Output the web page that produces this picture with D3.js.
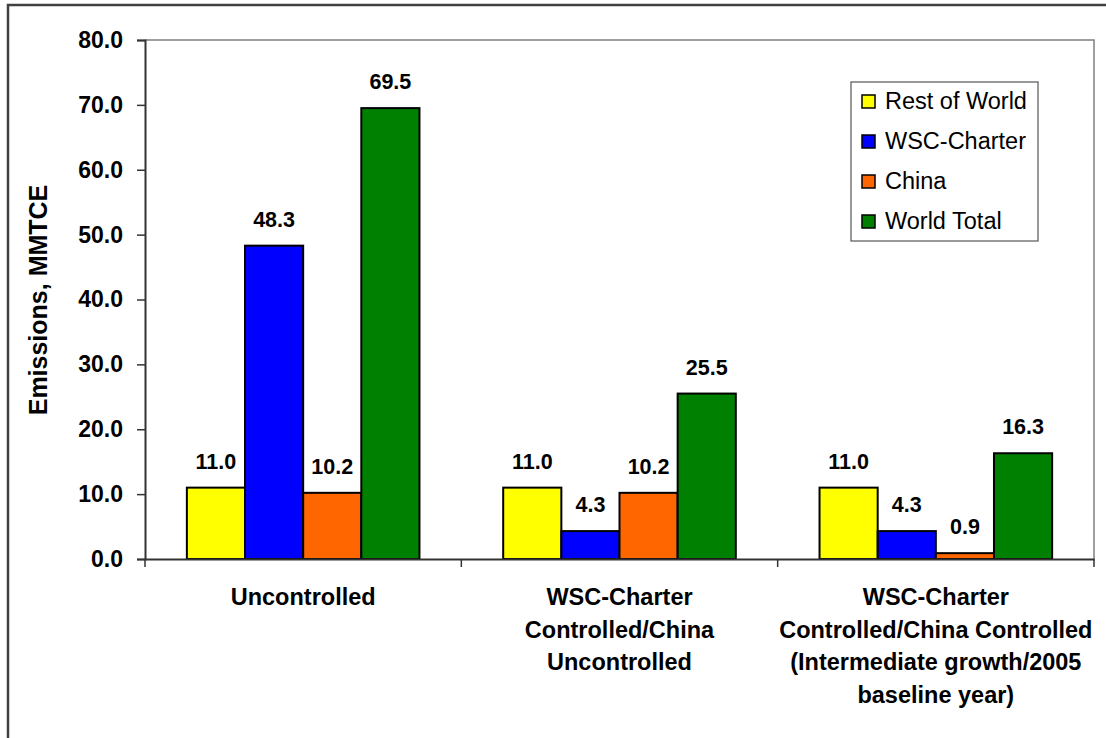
<!DOCTYPE html>
<html><head><meta charset="utf-8">
<script src="https://cdn.jsdelivr.net/npm/d3@7"></script>
<style>body{margin:0;background:#fff}svg{display:block}</style>
</head><body><svg id="c" width="1106" height="738"></svg>
<script>
const categories = [
  ["Uncontrolled"],
  ["WSC-Charter", "Controlled/China", "Uncontrolled"],
  ["WSC-Charter", "Controlled/China Controlled", "(Intermediate growth/2005", "baseline year)"]
];
const seriesNames = ["Rest of World", "WSC-Charter", "China", "World Total"];
const seriesColors = ["#FFFF00", "#0000FF", "#FF6600", "#008000"];
const restOfWorld = [11.0, 11.0, 11.0];
const wscCharter = [48.3, 4.3, 4.3];
const china = [10.2, 10.2, 0.9];
const worldTotal = [69.5, 25.5, 16.3];
const yTicks = [0, 10, 20, 30, 40, 50, 60, 70, 80];

const series = [restOfWorld, wscCharter, china, worldTotal];
const svg = d3.select("#c");
const L = 145, R = 1094, T = 40, B = 559;
const font = "Arial, 'Liberation Sans', sans-serif";

// outer frame
svg.append("rect").attr("x", 8).attr("y", 5).attr("width", 1200).attr("height", 800)
  .attr("fill", "none").attr("stroke", "#404040").attr("stroke-width", 2.5);

const x0 = d3.scaleBand().domain(d3.range(categories.length)).range([L, R]).paddingInner(0).paddingOuter(0);
const x1 = d3.scaleBand().domain(d3.range(series.length)).range([0, x0.bandwidth()]).paddingOuter(0.72).paddingInner(0);
const y = d3.scaleLinear().domain([0, 80]).range([B, T]);

// plot area border (top/right gray)
svg.append("path").attr("d", `M${L},${T}H${R}V${B}`).attr("fill", "none").attr("stroke", "#808080").attr("stroke-width", 1.5);

// bars
const g = svg.append("g");
categories.forEach((c, ci) => {
  series.forEach((s, si) => {
    const bx = x0(ci) + x1(si);
    g.append("rect").attr("x", bx).attr("y", y(s[ci])).attr("width", x1.bandwidth()).attr("height", B - y(s[ci]))
      .attr("fill", seriesColors[si]).attr("stroke", "#000").attr("stroke-width", 2);
    g.append("text").attr("x", bx + x1.bandwidth() / 2).attr("y", y(s[ci]) - 19)
      .attr("text-anchor", "middle").attr("font-family", font).attr("font-weight", "bold").attr("font-size", 21.5)
      .text(s[ci].toFixed(1));
  });
});

// y axis
const yAxis = d3.axisLeft(y).tickValues(yTicks).tickFormat(d => d.toFixed(1)).tickSizeOuter(0).tickSize(8).tickPadding(14);
const ya = svg.append("g").attr("transform", `translate(${L},0)`).call(yAxis);
ya.select(".domain").attr("stroke", "#333").attr("stroke-width", 2);
ya.selectAll(".tick line").attr("stroke", "#333").attr("stroke-width", 1.5);
ya.selectAll(".tick text").attr("font-family", font).attr("font-weight", "bold").attr("font-size", 23).attr("fill", "#000");

// x axis
const xAxis = d3.axisBottom(x0).tickValues([]).tickSizeOuter(0);
const xa = svg.append("g").attr("transform", `translate(0,${B})`).call(xAxis);
xa.select(".domain").attr("stroke", "#333").attr("stroke-width", 2);
d3.range(categories.length + 1).forEach(i => {
  const tx = L + i * x0.bandwidth();
  xa.append("line").attr("x1", tx).attr("x2", tx).attr("y1", 0).attr("y2", 8).attr("stroke", "#333").attr("stroke-width", 1.5);
});
categories.forEach((lines, ci) => {
  const t = svg.append("text").attr("text-anchor", "middle").attr("font-family", font).attr("font-weight", "bold").attr("font-size", 23.5);
  lines.forEach((ln, li) => {
    t.append("tspan").attr("x", x0(ci) + x0.bandwidth() / 2).attr("y", 605 + li * 32.5).text(ln);
  });
});

// y title
svg.append("text").attr("transform", "translate(47,300) rotate(-90)").attr("text-anchor", "middle")
  .attr("font-family", font).attr("font-weight", "bold").attr("font-size", 25).text("Emissions, MMTCE");

// legend
const lg = svg.append("g");
lg.append("rect").attr("x", 851).attr("y", 82).attr("width", 187).attr("height", 159).attr("fill", "#fff").attr("stroke", "#555").attr("stroke-width", 1.2);
seriesNames.forEach((n, i) => {
  const cy = 101 + i * 40;
  lg.append("rect").attr("x", 862).attr("y", cy - 6).attr("width", 13).attr("height", 13).attr("fill", seriesColors[i]).attr("stroke", "#000").attr("stroke-width", 1.5);
  lg.append("text").attr("x", 885).attr("y", cy + 8).attr("font-family", font).attr("font-size", 23.5).text(n);
});
</script></body></html>
